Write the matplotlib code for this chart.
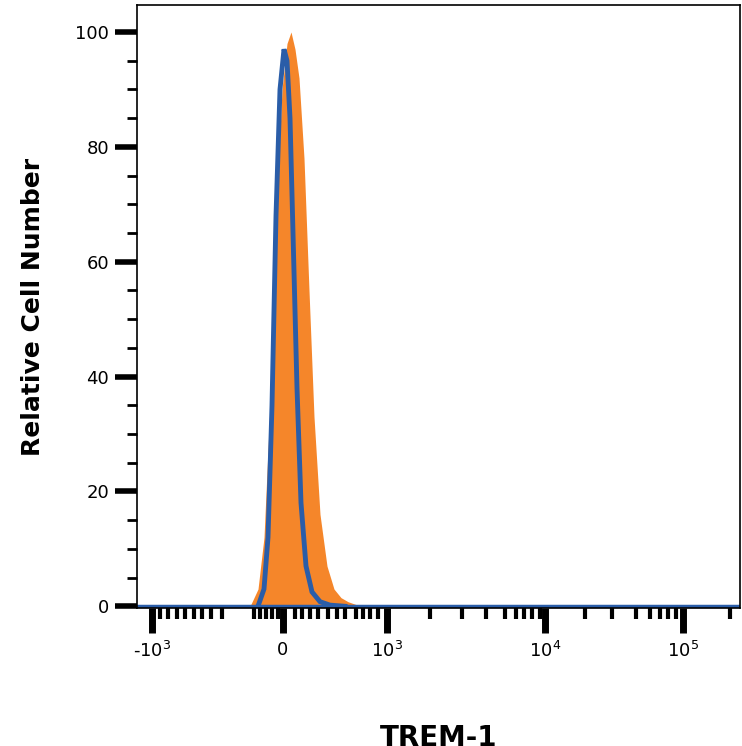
import matplotlib.pyplot as plt
import numpy as np

# x in display channel units (0..1000 scale of the plot)
orange_x = [250, 258, 264, 270, 276, 282, 287, 291, 295, 299, 304, 309, 314, 320, 327, 334, 341, 348, 356, 362]
orange_y = [0, 3, 12, 35, 68, 90, 98, 100, 97, 92, 78, 55, 33, 16, 7, 3, 1.5, 0.8, 0.3, 0]
blue_x = [258, 264, 268, 272, 276, 280, 284, 287, 290, 293, 297, 301, 306, 312, 320, 330, 345]
blue_y = [0, 3, 12, 35, 68, 90, 97, 95, 85, 65, 38, 18, 7, 2.5, 0.8, 0.2, 0]

major_pos = [152, 283, 387, 545, 683]
major_lab = ['-10$^3$', '0', '10$^3$', '10$^4$', '10$^5$']
minor_pos = [160, 168, 177, 185, 194, 202, 211, 222, 254, 260, 266, 272, 278, 295, 302, 310, 318, 328,
             337, 345, 356, 363, 370, 378, 430, 462, 486, 505, 516, 524, 532, 540,
             585, 612, 636, 650, 660, 668, 676, 730]

fig = plt.figure(figsize=(7.42, 7.46), dpi=100)
ax = fig.add_axes([137/742, 1-608/746, 603/742, 603/746])
ax.fill_between(orange_x, orange_y, color='#f5862a', lw=0)
ax.plot(blue_x, blue_y, color='#2a5da8', lw=3.5, solid_joinstyle='miter')
ax.plot([137, 740], [0, 0], color='#2a5da8', lw=2.5)
ax.set_xlim(137, 740)
ax.set_ylim(-0.3, 104.7)

ax.set_xticks(major_pos)
ax.set_xticklabels(major_lab, fontsize=13)
ax.set_xticks(minor_pos, minor=True)
ax.tick_params(axis='x', which='major', length=18, width=5, direction='out', pad=6)
ax.tick_params(axis='x', which='minor', length=8, width=3, direction='out')
ax.set_yticks([0, 20, 40, 60, 80, 100])
ax.set_yticks(np.arange(0, 101, 5), minor=True)
ax.tick_params(axis='y', which='major', length=16, width=4, direction='out', labelsize=13, pad=4)
ax.tick_params(axis='y', which='minor', length=7, width=2, direction='out')
for s in ax.spines.values():
    s.set_linewidth(1.2)

ax.set_ylabel('Relative Cell Number', fontsize=18, fontweight='bold', labelpad=22)
ax.set_xlabel('TREM-1', fontsize=20, fontweight='bold', labelpad=45)
fig.savefig('out.png', dpi=100)
